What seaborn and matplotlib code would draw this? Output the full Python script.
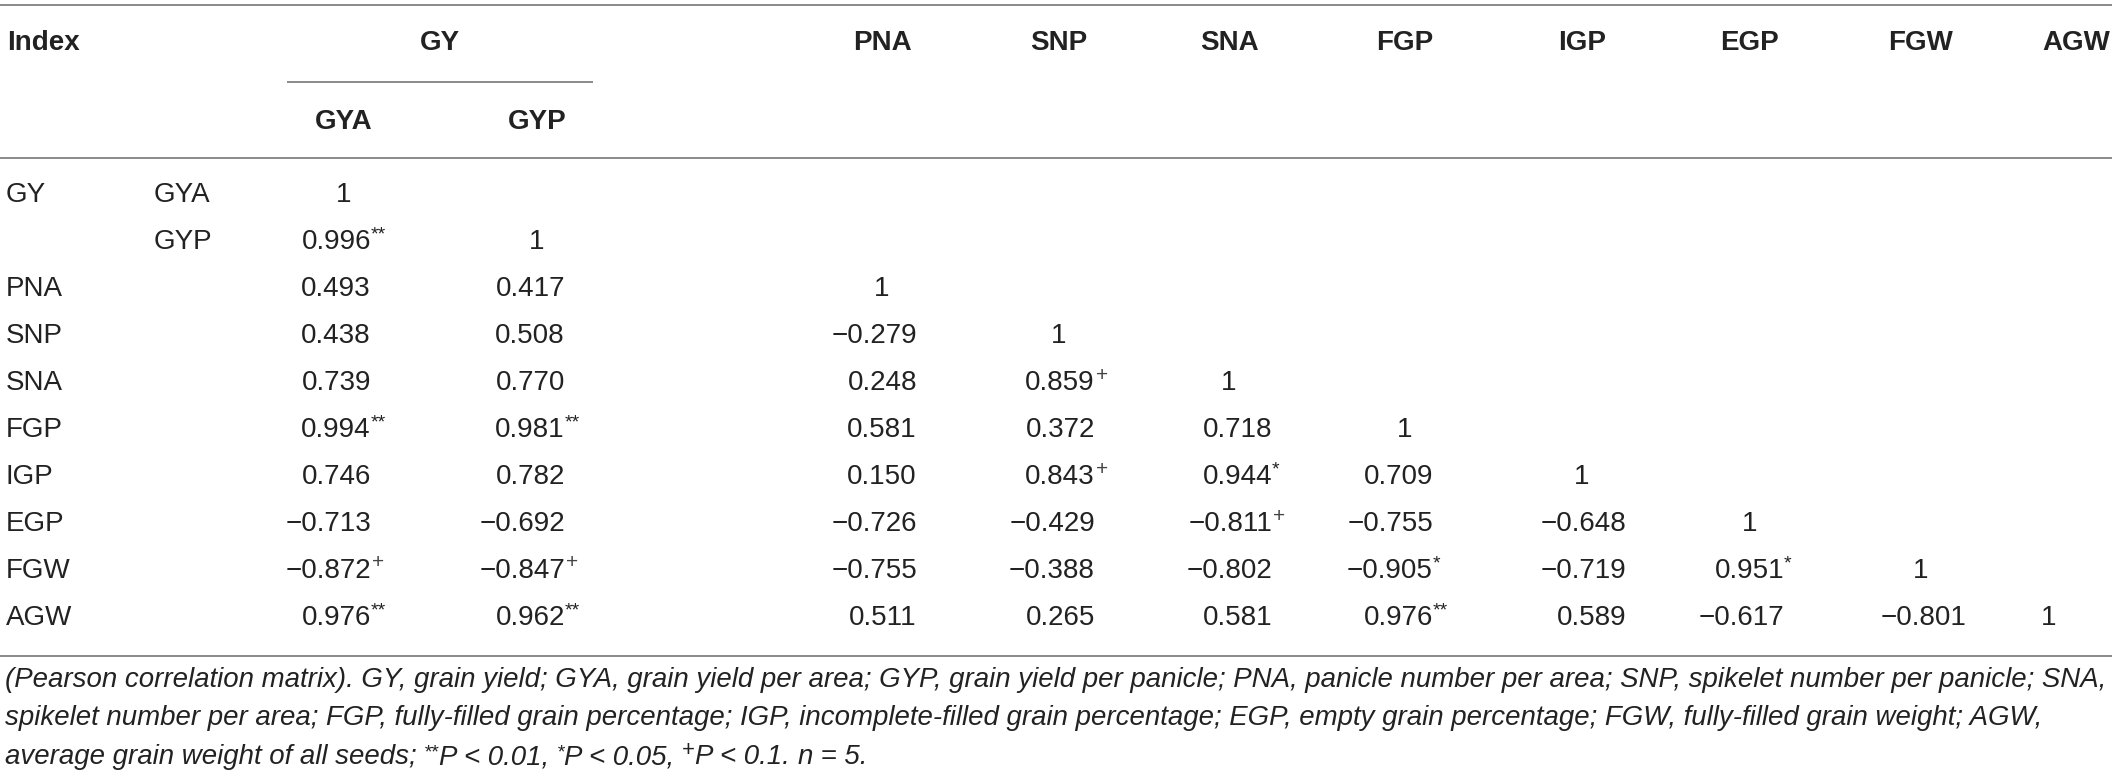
import numpy as np
import matplotlib
matplotlib.use("Agg")
import matplotlib.pyplot as plt
import seaborn as sns

# table content
col_labels = ["GYA", "GYP", "PNA", "SNP", "SNA", "FGP", "IGP", "EGP", "FGW", "AGW"]
row_group = ["GY", "", "PNA", "SNP", "SNA", "FGP", "IGP", "EGP", "FGW", "AGW"]
row_sub = ["GYA", "GYP", "", "", "", "", "", "", "", ""]

r_values = [
    [1],
    [0.996, 1],
    [0.493, 0.417, 1],
    [0.438, 0.508, -0.279, 1],
    [0.739, 0.770, 0.248, 0.859, 1],
    [0.994, 0.981, 0.581, 0.372, 0.718, 1],
    [0.746, 0.782, 0.150, 0.843, 0.944, 0.709, 1],
    [-0.713, -0.692, -0.726, -0.429, -0.811, -0.755, -0.648, 1],
    [-0.872, -0.847, -0.755, -0.388, -0.802, -0.905, -0.719, 0.951, 1],
    [0.976, 0.962, 0.511, 0.265, 0.581, 0.976, 0.589, -0.617, -0.801, 1],
]
sig_marks = [
    [""],
    ["**", ""],
    ["", "", ""],
    ["", "", "", ""],
    ["", "", "", "+", ""],
    ["**", "**", "", "", "", ""],
    ["", "", "", "+", "*", "", ""],
    ["", "", "", "", "+", "", "", ""],
    ["+", "+", "", "", "", "*", "", "*", ""],
    ["**", "**", "", "", "", "**", "", "", "", ""],
]

footnote_lines = [
    "(Pearson correlation matrix). GY, grain yield; GYA, grain yield per area; GYP, grain yield per panicle; "
    "PNA, panicle number per area; SNP, spikelet number per panicle; SNA,",
    "spikelet number per area; FGP, fully-filled grain percentage; IGP, incomplete-filled grain percentage; "
    "EGP, empty grain percentage; FGW, fully-filled grain weight; AGW,",
]
footnote_last = [
    ("average grain weight of all seeds; ", "txt"),
    ("**", "star"), ("P < 0.01, ", "txt"),
    ("*", "star"), ("P < 0.05, ", "txt"),
    ("+", "plus"), ("P < 0.1. ", "txt"),
    ("n", "txt"), (" = 5.", "txt"),
]

# layout (pixels)
W, H = 2118, 779
col_center = [344, 537, 882, 1059, 1229, 1405, 1582, 1750, 1921, 2049]
col_right = [371, 565, 917, 1095, 1272, 1433, 1626, 1784, 1966, 2060]
row_y0, row_dy = 195, 47

sns.set_theme(style="white")
plt.rcParams["font.family"] = ["Liberation Sans", "DejaVu Sans"]

txt = "#222222"
line_c = "#8a8a8a"
fs = 20

fig = plt.figure(figsize=(W / 100, H / 100), dpi=100)
ax = fig.add_axes([0, 0, 1, 1])
ax.set_xlim(0, W)
ax.set_ylim(H, 0)
ax.axis("off")

# rules
ax.hlines([5, 158, 656], 0, 2112, color=line_c, lw=1.4)
ax.hlines(82, 287, 593, color=line_c, lw=1.4)

# header
ax.text(7, 43, "Index", fontsize=fs, fontweight="bold", color=txt, va="center", ha="left")
ax.text(440, 43, "GY", fontsize=fs, fontweight="bold", color=txt, va="center", ha="center")
for j, lab in enumerate(col_labels):
    if j < 2:
        ax.text(col_center[j], 122, lab, fontsize=fs, fontweight="bold", color=txt,
                va="center", ha="center")
    elif lab == "AGW":
        ax.text(2042, 43, lab, fontsize=fs, fontweight="bold", color=txt, va="center", ha="left")
    else:
        ax.text(col_center[j], 43, lab, fontsize=fs, fontweight="bold", color=txt,
                va="center", ha="center")

# body
for i in range(len(row_group)):
    y = row_y0 + i * row_dy
    ax.text(6, y, row_group[i], fontsize=fs, color=txt, va="center", ha="left")
    ax.text(154, y, row_sub[i], fontsize=fs, color=txt, va="center", ha="left")
    for j, v in enumerate(r_values[i]):
        if v == 1:
            ax.text(col_center[j], y, "1", fontsize=fs, color=txt, va="center", ha="center")
            continue
        s = f"{v:.3f}".replace("-", "\u2212")
        ax.text(col_right[j], y, s, fontsize=fs, color=txt, va="center", ha="right")
        mark = sig_marks[i][j]
        if mark == "+":
            ax.text(col_right[j] + 1, y - 8, mark, fontsize=15, color="#444444",
                    va="center", ha="left")
        elif mark:
            ax.text(col_right[j], y - 7, mark, fontsize=14, color=txt,
                    va="center", ha="left")

# footnote, fitted to the full line width
fn_family = ["Liberation Sans Narrow", "DejaVu Sans Condensed", "Liberation Sans"]
fig.canvas.draw()
renderer = fig.canvas.get_renderer()
probe = ax.text(5, 680, footnote_lines[0], fontsize=18, style="italic",
                family=fn_family, color=txt, va="center", ha="left")
w = probe.get_window_extent(renderer).width
fn_fs = 18 * (2104 / w)
probe.set_fontsize(fn_fs)
ax.text(5, 718, footnote_lines[1], fontsize=fn_fs, style="italic",
        family=fn_family, color=txt, va="center", ha="left")

x = 5
for part, kind in footnote_last:
    if kind == "txt":
        size, yy, sty = fn_fs, 757, "italic"
    elif kind == "star":
        size, yy, sty = fn_fs * 0.7, 753, "italic"
    else:
        size, yy, sty = fn_fs * 0.8, 750, "normal"
    t = ax.text(x, yy, part, fontsize=size, style=sty,
                family=fn_family, color=txt, va="center", ha="left")
    x += t.get_window_extent(renderer).width

fig.savefig("out.png", dpi=100)
